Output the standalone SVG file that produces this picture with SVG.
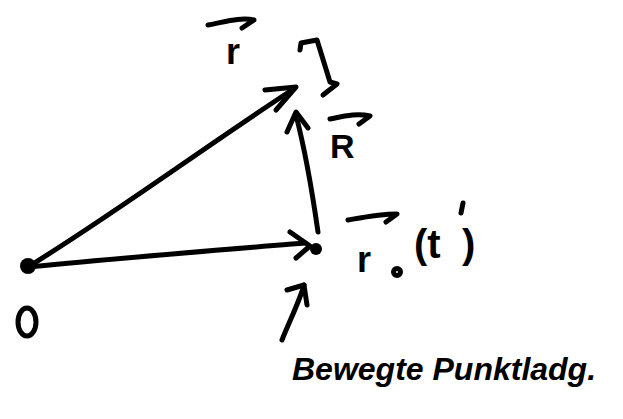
<svg xmlns="http://www.w3.org/2000/svg" width="623" height="419" viewBox="0 0 623 419">
<style>
.s{fill:none;stroke:#000;stroke-width:5;stroke-linecap:round;stroke-linejoin:round}
.t{font-family:"Liberation Sans",Arial,sans-serif;fill:#000;font-weight:bold}
</style>
<rect width="623" height="419" fill="#fff"/>
<g id="connectors">
<path class="s" d="M28 267 C 120 210, 200 150, 292 90"/>
<path class="s" d="M265 90 L296 87 L276 110"/>
<path class="s" d="M28 267 C 120 258, 220 250, 305 243"/>
<path class="s" d="M290 232 L310 246 L296 258"/>
<path class="s" d="M318 232 C 312 190, 305 150, 296 115"/>
<path class="s" d="M287 132 L296 112 L308 128"/>
<path class="s" d="M282 340 C 290 320, 300 300, 304 285"/>
<path class="s" d="M287 290 L304 285 L307 305"/>
</g>
<g id="node-O">
<circle cx="28" cy="266" r="8" fill="#000"/>
<ellipse cx="27" cy="322" rx="9" ry="14" class="s"/>
</g>
<g id="node-r0">
<circle cx="316" cy="249" r="6" fill="#000"/>
<path class="s" d="M348 220 C 365 217, 380 214, 397 214 L 386 222"/>
<text class="t" x="357" y="272" font-size="36">r</text>
<circle cx="397" cy="272" r="3.5" class="s"/>
<text class="t" x="414" y="258" font-size="40">(t</text>
<path class="s" d="M463 203 L461 213"/>
<text class="t" x="462" y="258" font-size="40">)</text>
</g>
<g id="node-r">
<path class="s" d="M208 25 C 225 22, 240 17, 254 20 L 242 28"/>
<text class="t" x="226" y="64" font-size="36">r</text>
<path class="s" d="M300 50 L301 43 L317 40 L330 82 L337 84 L323 95"/>
</g>
<g id="node-R">
<path class="s" d="M330 119 C 345 116, 357 113, 370 116 L 359 124"/>
<text class="t" x="330" y="158" font-size="34">R</text>
</g>
<g id="label-moving">
<text class="t" x="292" y="380" font-size="32" font-style="italic">Bewegte Punktladg.</text>
</g>
</svg>
